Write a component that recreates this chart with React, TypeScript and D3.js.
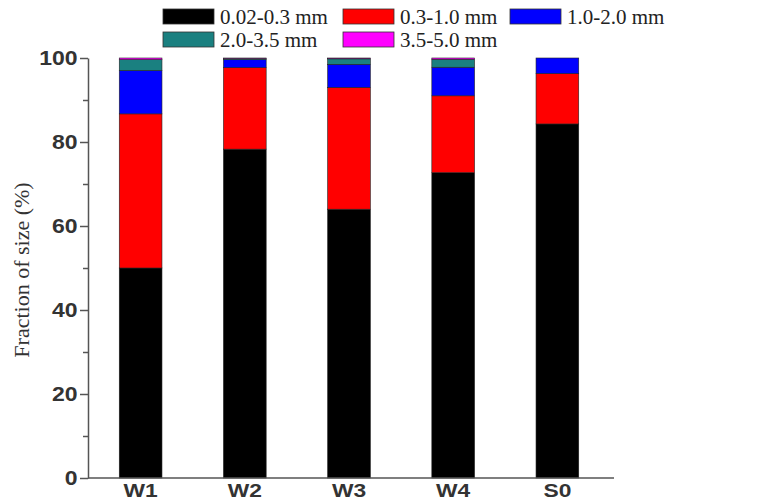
import React, { useEffect, useRef } from "react";
import * as d3 from "d3";

const samples = ["W1", "W2", "W3", "W4", "S0"];
const sizeClasses = ["0.02-0.3 mm", "0.3-1.0 mm", "1.0-2.0 mm", "2.0-3.5 mm", "3.5-5.0 mm"];
const classColors = ["#000000", "#ff0000", "#0000ff", "#1a8080", "#ff00ff"];

// fraction (%) of each size class per sample
const fine = [50.0, 78.3, 64.0, 72.7, 84.3];
const medium = [36.7, 19.4, 29.0, 18.3, 12.0];
const coarse = [10.3, 1.9, 5.5, 6.8, 3.7];
const veryCoarse = [2.6, 0.3, 1.3, 1.9, 0.0];
const gravel = [0.4, 0.1, 0.2, 0.3, 0.0];

const yTicks = [0, 20, 40, 60, 80, 100];

export default function App() {
  const ref = useRef<SVGSVGElement>(null);

  useEffect(() => {
    const svg = d3.select(ref.current);
    svg.selectAll("*").remove();

    const left = 88, right = 610, top = 58, bottom = 478;
    const sans = "Liberation Sans, Arial, sans-serif";
    const serif = "Liberation Serif, Times New Roman, serif";

    const x = d3.scaleBand().domain(samples).range([left, right]).paddingInner(0.59).paddingOuter(0.3);
    const y = d3.scaleLinear().domain([0, 100]).range([bottom, top]);

    const table = samples.map((s, i) => ({
      sample: s,
      c0: fine[i], c1: medium[i], c2: coarse[i], c3: veryCoarse[i], c4: gravel[i],
    }));
    const stack = d3.stack<any>().keys(["c0", "c1", "c2", "c3", "c4"])(table);

    const g = svg.append("g");
    stack.forEach((layer, k) => {
      g.selectAll(".l" + k)
        .data(layer)
        .join("rect")
        .attr("x", (d: any) => x(d.data.sample)!)
        .attr("width", x.bandwidth())
        .attr("y", (d) => y(d[1]))
        .attr("height", (d) => Math.max(0, y(d[0]) - y(d[1])))
        .attr("fill", classColors[k])
        .attr("stroke", (d) => (d[1] - d[0] > 0 ? "#222" : "none"))
        .attr("stroke-width", 0.6);
    });

    // y axis
    const yAxis = d3.axisLeft(y).tickValues(d3.range(0, 101, 10)).tickSize(8).tickSizeOuter(0)
      .tickFormat((d) => (yTicks.includes(+d) ? String(d) : ""));
    const ya = svg.append("g").attr("transform", `translate(${left},0)`).call(yAxis);
    ya.selectAll("line").attr("stroke", "#555").attr("stroke-width", 1.5);
    ya.selectAll(".tick").filter((d: any) => d % 20 !== 0).select("line").attr("x2", -5);
    ya.select(".domain").attr("stroke", "#555").attr("stroke-width", 1.5);
    ya.selectAll("text")
      .attr("font-family", sans)
      .attr("font-size", 20).attr("font-weight", "bold").attr("fill", "#333")
      .attr("x", -9).attr("transform", "scale(1.15,1)");

    // x axis
    const xa = svg.append("g").attr("transform", `translate(0,${bottom})`)
      .call(d3.axisBottom(x).tickSize(0).tickSizeOuter(0));
    xa.select(".domain").attr("stroke", "#555").attr("stroke-width", 1.5).attr("d", `M${left},0H${614}`);
    xa.selectAll("text")
      .attr("font-family", sans)
      .attr("font-size", 19).attr("font-weight", "bold").attr("fill", "#333")
      .attr("y", 4).attr("dy", "0.8em").attr("transform", "scale(1.2,1)");

    svg.append("text")
      .attr("transform", `translate(29,${(top + bottom) / 2 + 2}) rotate(-90)`)
      .attr("text-anchor", "middle")
      .attr("font-family", serif)
      .attr("font-size", 22).attr("fill", "#333")
      .text("Fraction of size (%)");

    // legend
    const legendPos = [
      [163, 9], [343, 9], [510, 9], [163, 32], [343, 32],
    ];
    sizeClasses.forEach((name, i) => {
      const [lx, ly] = legendPos[i];
      const lg = svg.append("g").attr("transform", `translate(${lx},${ly})`);
      lg.append("rect").attr("width", 51).attr("height", 15).attr("fill", classColors[i])
        .attr("stroke", "#333").attr("stroke-width", 0.8);
      lg.append("text").attr("x", 57).attr("y", 15)
        .attr("font-family", serif)
        .attr("font-size", 21).attr("fill", "#222").text(name);
    });
  }, []);

  return (
    <svg ref={ref} width={770} height={504} style={{ position: "absolute", left: 0, top: 0, background: "#fff" }} />
  );
}
